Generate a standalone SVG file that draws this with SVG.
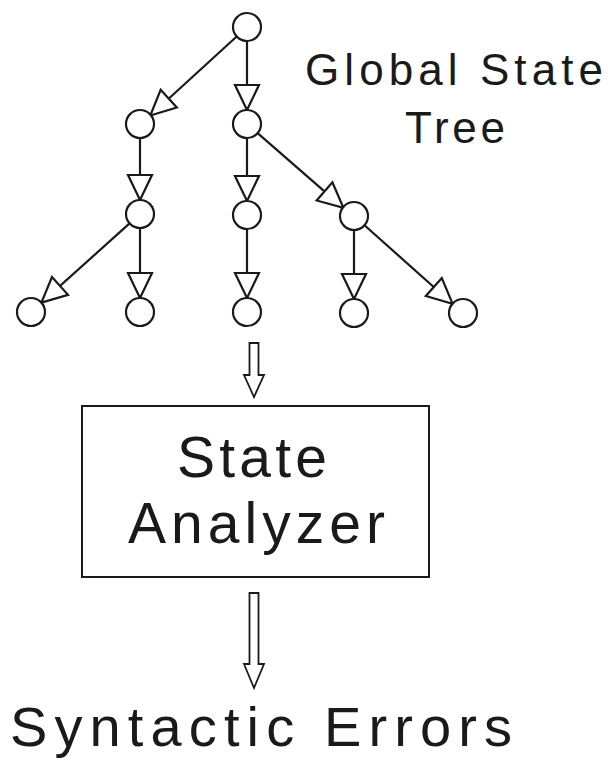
<svg xmlns="http://www.w3.org/2000/svg" width="608" height="760" viewBox="0 0 608 760">
<style>
.n{fill:#fff;stroke:#1a1a1a;stroke-width:2.2}
.e{stroke:#1a1a1a;stroke-width:2.2;fill:none;marker-end:url(#tri)}
.t{font-family:"Liberation Sans",Arial,sans-serif;fill:#1a1a1a}
.h{fill:#fff;stroke:#1a1a1a;stroke-width:1.8;stroke-linejoin:miter}
</style>
<defs>
<marker id="tri" markerUnits="userSpaceOnUse" markerWidth="30" markerHeight="30" viewBox="-27 -14 30 28" refX="0" refY="0" orient="auto">
<path d="M0,0 L-25,-12 L-25,12 Z" fill="#fff" stroke="#1a1a1a" stroke-width="2.2" stroke-linejoin="miter"/>
</marker>
</defs>
<rect width="608" height="760" fill="#fff"/>
<g id="edges">
<line class="e" x1="247" y1="41" x2="247" y2="110"/>
<line class="e" x1="236.7" y1="36.5" x2="150.3" y2="115.5"/>
<line class="e" x1="140" y1="138" x2="140" y2="200"/>
<line class="e" x1="247" y1="138" x2="247" y2="201"/>
<line class="e" x1="257.6" y1="133.2" x2="343.4" y2="207.8"/>
<line class="e" x1="129.6" y1="223.4" x2="41.4" y2="302.6"/>
<line class="e" x1="140" y1="228" x2="140" y2="298"/>
<line class="e" x1="247" y1="229" x2="247" y2="298"/>
<line class="e" x1="354" y1="230" x2="354" y2="299"/>
<line class="e" x1="364.5" y1="225.3" x2="452.5" y2="303.7"/>
<path class="h" d="M249.5,343 L258.5,343 L258.5,375 L264,375 L254,397 L244,375 L249.5,375 Z"/>
<path class="h" d="M249.5,593 L258.5,593 L258.5,664 L264,664 L254,688 L244,664 L249.5,664 Z"/>
</g>
<g id="root"><circle class="n" cx="247" cy="27" r="14"/></g>
<g id="n1a"><circle class="n" cx="140" cy="124" r="14"/></g>
<g id="n1b"><circle class="n" cx="247" cy="124" r="14"/></g>
<g id="n2a"><circle class="n" cx="140" cy="214" r="14"/></g>
<g id="n2b"><circle class="n" cx="247" cy="215" r="14"/></g>
<g id="n2c"><circle class="n" cx="354" cy="216" r="14"/></g>
<g id="n3a"><circle class="n" cx="31" cy="312" r="14"/></g>
<g id="n3b"><circle class="n" cx="140" cy="312" r="14"/></g>
<g id="n3c"><circle class="n" cx="247" cy="312" r="14"/></g>
<g id="n3d"><circle class="n" cx="354" cy="313" r="14"/></g>
<g id="n3e"><circle class="n" cx="463" cy="313" r="14"/></g>
<g id="label-tree">
<text class="t" x="305" y="85" font-size="44" textLength="298" lengthAdjust="spacing">Global State</text>
<text class="t" x="405" y="143" font-size="44" textLength="100" lengthAdjust="spacing">Tree</text>
</g>
<g id="analyzer">
<rect x="82" y="406" width="347" height="171" fill="#fff" stroke="#1a1a1a" stroke-width="2"/>
<text class="t" x="177" y="477" font-size="57" textLength="150" lengthAdjust="spacing">State</text>
<text class="t" x="128" y="543" font-size="57" textLength="257" lengthAdjust="spacing">Analyzer</text>
</g>
<g id="output">
<text class="t" x="10" y="746" font-size="56" textLength="502" lengthAdjust="spacing">Syntactic Errors</text>
</g>
</svg>
